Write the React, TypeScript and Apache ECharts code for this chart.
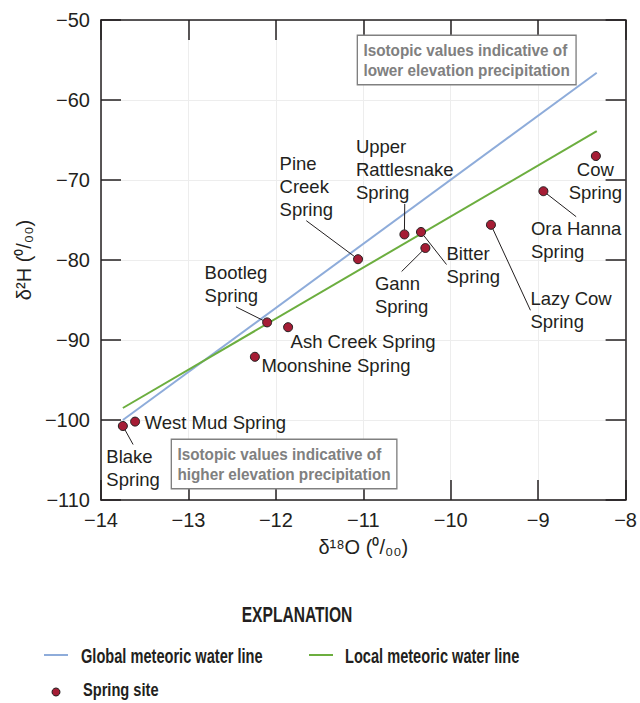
import React, { useEffect, useRef } from 'react';
import * as echarts from 'echarts';

// ---- data ----
const springNames = [
  'Blake Spring', 'West Mud Spring', 'Bootleg Spring', 'Ash Creek Spring', 'Moonshine Spring',
  'Pine Creek Spring', 'Upper Rattlesnake Spring', 'Bitter Spring', 'Gann Spring',
  'Lazy Cow Spring', 'Ora Hanna Spring', 'Cow Spring',
];
const springLabels = [
  'Blake\nSpring', 'West Mud Spring', 'Bootleg\nSpring', 'Ash Creek Spring', 'Moonshine Spring',
  'Pine\nCreek\nSpring', 'Upper\nRattlesnake\nSpring', 'Bitter\nSpring', 'Gann\nSpring',
  'Lazy Cow\nSpring', 'Ora Hanna\nSpring', 'Cow\nSpring',
];
const springD18O = [-13.75, -13.61, -12.10, -11.86, -12.24, -11.06, -10.53, -10.34, -10.29, -9.54, -8.94, -8.34];
const springD2H = [-100.75, -100.2, -87.8, -88.4, -92.1, -79.9, -76.8, -76.5, -78.5, -75.6, -71.4, -67.0];

const gmwlD18O = [-13.75, -8.33];
const gmwlD2H = [-100.0, -56.6];
const lmwlD18O = [-13.75, -8.33];
const lmwlD2H = [-98.5, -63.9];

const xMin = -14, xMax = -8, xStep = 1;
const yMin = -110, yMax = -50, yStep = 10;

const legendNames = ['Global meteoric water line', 'Local meteoric water line', 'Spring site'];
const boxTexts = [
  'Isotopic values indicative of\nlower elevation precipitation',
  'Isotopic values indicative of\nhigher elevation precipitation',
];

// ---- label layout (offsets of label box from point, px) ----
const labelLayout: Record<string, { dx: number; dy: number; align?: string; leader: boolean }> = {
  'Blake Spring': { dx: -16, dy: 19, leader: true },
  'West Mud Spring': { dx: 10, dy: -10, leader: false },
  'Bootleg Spring': { dx: -62, dy: -61, leader: true },
  'Ash Creek Spring': { dx: 3, dy: 3, leader: false },
  'Moonshine Spring': { dx: 7, dy: -2, leader: false },
  'Pine Creek Spring': { dx: -78, dy: -107, leader: true },
  'Upper Rattlesnake Spring': { dx: -48, dy: -99, leader: true },
  'Bitter Spring': { dx: 26, dy: 10, leader: true },
  'Gann Spring': { dx: -50, dy: 24, leader: true },
  'Lazy Cow Spring': { dx: 40, dy: 63, leader: true },
  'Ora Hanna Spring': { dx: -12, dy: 26, leader: true },
  'Cow Spring': { dx: 0, dy: 2, align: 'center', leader: false },
};

const REG = "'Liberation Sans', Arial, sans-serif";
const INK = '#231f20';
const BLUE = '#8eacda';
const GREEN = '#6cae3f';
const DOT = '#a51d35';
const GREY = '#808080';
const SYM = 9;

const minus = (v: number) => String(v).replace('-', '\u2212');

export default function App() {
  const ref = useRef<HTMLDivElement>(null);
  useEffect(() => {
    document.body.style.margin = '0';
    if (!ref.current) return;
    const chart = echarts.init(ref.current, null, { renderer: 'svg' });

    const axisLine = { show: true, onZero: false, lineStyle: { color: INK, width: 1.5 } };
    const axisTick = { show: true, inside: true, length: 20, lineStyle: { color: INK, width: 1.5 } };
    const split = { show: true, lineStyle: { color: '#ededed', width: 1 } };

    const springData = springNames.map((n, i) => {
      const l = labelLayout[n];
      const half = SYM / 2;
      return {
        name: n,
        value: [springD18O[i], springD2H[i]],
        label: {
          show: true,
          formatter: springLabels[i],
          position: [l.dx + half, l.dy + half],
          align: l.align || 'left',
          verticalAlign: 'top',
        },
        labelLine: { show: l.leader },
      };
    });

    const boldText = (text: string, x: number, y: number, size: number, sx: number, extra: any = {}) => ({
      type: 'text', x, y, scaleX: sx, z: 10,
      style: { text, font: `bold ${size}px ${REG}`, fill: INK, verticalAlign: 'middle', ...extra },
    });

    const box = (text: string, x: number, y: number) => ({
      type: 'text', x, y, scaleX: 0.9, z: 10,
      style: {
        text, font: `bold 17px ${REG}`, fill: GREY, lineHeight: 20,
        padding: [4, 6, 4, 6], borderColor: GREY, borderWidth: 1.5, backgroundColor: '#ffffff',
      },
    });

    const option: any = {
      animation: false,
      backgroundColor: '#ffffff',
      grid: { left: 101, top: 20, right: 13, bottom: 203 },
      xAxis: [
        {
          type: 'value', min: xMin, max: xMax, interval: xStep, position: 'bottom',
          axisLine, axisTick, splitLine: split,
          axisLabel: { formatter: minus, fontSize: 20, color: INK, margin: 10, fontFamily: REG },
          name: 'δ\u00b9\u2078O (\u2070/\u2080\u2080)', nameLocation: 'middle', nameGap: 37,
          nameTextStyle: { fontSize: 20, color: INK, fontFamily: REG },
        },
        {
          type: 'value', min: xMin, max: xMax, interval: xStep, position: 'top',
          axisLine, axisTick, splitLine: { show: false }, axisLabel: { show: false },
        },
      ],
      yAxis: [
        {
          type: 'value', min: yMin, max: yMax, interval: yStep, position: 'left',
          axisLine, axisTick, splitLine: split,
          axisLabel: { formatter: minus, fontSize: 20, color: INK, margin: 11, fontFamily: REG },
          name: 'δ\u00b2H (\u2070/\u2080\u2080)', nameLocation: 'middle', nameGap: 53,
          nameTextStyle: { fontSize: 20, color: INK, fontFamily: REG },
        },
        {
          type: 'value', min: yMin, max: yMax, interval: yStep, position: 'right',
          axisLine, axisTick, splitLine: { show: false }, axisLabel: { show: false },
        },
      ],
      graphic: [
        box(boxTexts[0], 358, 36),
        box(boxTexts[1], 172, 440),
        boldText('EXPLANATION', 297, 615, 22, 0.71, { align: 'center' }),
        { type: 'line', shape: { x1: 44, y1: 655, x2: 68, y2: 655 }, style: { stroke: BLUE, lineWidth: 2 } },
        boldText(legendNames[0], 81, 656, 20, 0.73),
        { type: 'line', shape: { x1: 309, y1: 655, x2: 333, y2: 655 }, style: { stroke: GREEN, lineWidth: 2 } },
        boldText(legendNames[1], 345, 656, 20, 0.73),
        { type: 'circle', shape: { cx: 56, cy: 692, r: 4 }, style: { fill: DOT, stroke: INK, lineWidth: 1 } },
        boldText(legendNames[2], 83, 690, 19, 0.77),
      ],
      series: [
        {
          name: legendNames[0], type: 'line', symbol: 'none',
          data: gmwlD18O.map((x, i) => [x, gmwlD2H[i]]),
          lineStyle: { color: BLUE, width: 2 }, itemStyle: { color: BLUE }, z: 2,
        },
        {
          name: legendNames[1], type: 'line', symbol: 'none',
          data: lmwlD18O.map((x, i) => [x, lmwlD2H[i]]),
          lineStyle: { color: GREEN, width: 2 }, itemStyle: { color: GREEN }, z: 2,
        },
        {
          name: legendNames[2], type: 'scatter', symbol: 'circle', symbolSize: SYM, z: 5,
          itemStyle: { color: DOT, borderColor: INK, borderWidth: 1, opacity: 1 },
          label: { show: true, fontSize: 18.5, lineHeight: 23, color: INK, fontFamily: REG },
          labelLine: { show: true, lineStyle: { color: INK, width: 1 } },
          emphasis: { disabled: true },
          data: springData,
        },
      ],
    };
    chart.setOption(option);
    return () => chart.dispose();
  }, []);
  return <div ref={ref} style={{ width: 640, height: 703 }} />;
}
